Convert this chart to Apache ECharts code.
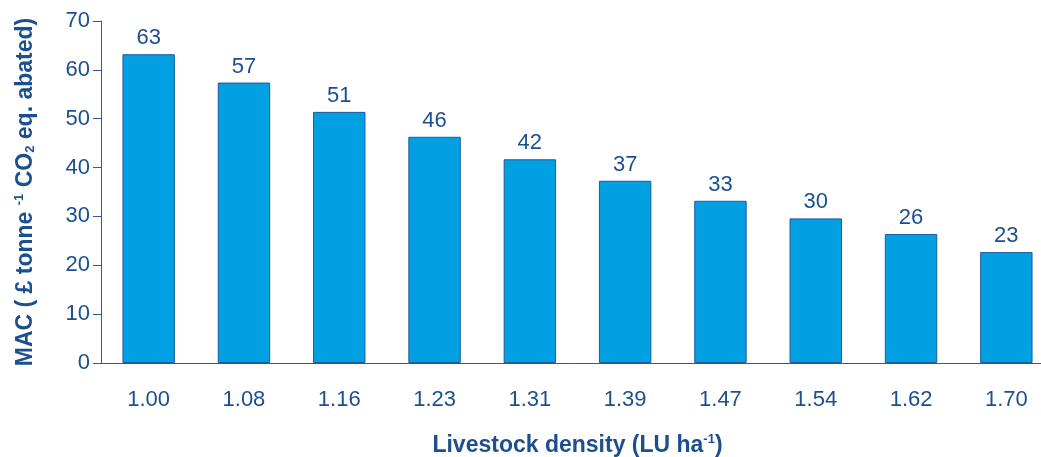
<!DOCTYPE html>
<html>
<head>
<meta charset="utf-8">
<script src="https://cdn.jsdelivr.net/npm/echarts@6/dist/echarts.min.js"></script>
<style>html,body{margin:0;padding:0;background:#fff}#c{width:1041px;height:457px}</style>
</head>
<body>
<div id="c"></div>
<script>
const categories = ['1.00','1.08','1.16','1.23','1.31','1.39','1.47','1.54','1.62','1.70'];
const macValues = [63.2, 57.4, 51.4, 46.3, 41.7, 37.3, 33.2, 29.6, 26.4, 22.7];
const yTicks = {min: 0, max: 70, interval: 10};

const txt = '#1B4F8F';
const font = '"Liberation Sans", Arial, sans-serif';
const chart = echarts.init(document.getElementById('c'));
chart.setOption({
  animation: false,
  grid: {left: 101, right: -13, top: 21, bottom: 94, containLabel: false, outerBoundsMode: 'none'},
  xAxis: {
    type: 'category',
    data: categories,
    axisLine: {lineStyle: {color: '#2A5C9A', width: 1}},
    axisTick: {show: false},
    axisLabel: {color: txt, fontSize: 22, fontFamily: font, margin: 26},
    name: '{b|Livestock density (LU ha}{sup|-1}{b|)}',
    nameLocation: 'middle',
    nameGap: 70,
    nameTextStyle: {
      rich: {
        b: {fontSize: 23, fontWeight: 'bold', color: txt, fontFamily: font},
        sup: {fontSize: 13, fontWeight: 'bold', color: txt, fontFamily: font, padding: [0,0,12,0]}
      }
    }
  },
  yAxis: {
    type: 'value',
    min: yTicks.min, max: yTicks.max, interval: yTicks.interval,
    axisLine: {show: true, lineStyle: {color: '#2A5C9A', width: 1}},
    axisTick: {show: true, length: 8, lineStyle: {color: '#2A5C9A'}},
    splitLine: {show: false},
    axisLabel: {color: txt, fontSize: 22, fontFamily: font, margin: 11},
    name: '{b|MAC ( £ tonne }{sup|-1}{b| CO}{sub|2}{b| eq. abated)}',
    nameLocation: 'middle',
    nameRotate: 90,
    nameGap: 63,
    nameTextStyle: {
      rich: {
        b: {fontSize: 23, fontWeight: 'bold', color: txt, fontFamily: font},
        sup: {fontSize: 13, fontWeight: 'bold', color: txt, fontFamily: font, padding: [0,0,12,0]},
        sub: {fontSize: 13, fontWeight: 'bold', color: txt, fontFamily: font, padding: [9,0,0,0]}
      }
    }
  },
  series: [{
    type: 'bar',
    data: macValues,
    barWidth: '55%',
    itemStyle: {color: '#00A0E3', borderColor: '#1F5A9C', borderWidth: 1},
    label: {
      show: true, position: 'top', distance: 5,
      color: txt, fontSize: 22, fontFamily: font,
      formatter: p => Math.round(p.value)
    }
  }]
});
</script>
</body>
</html>
